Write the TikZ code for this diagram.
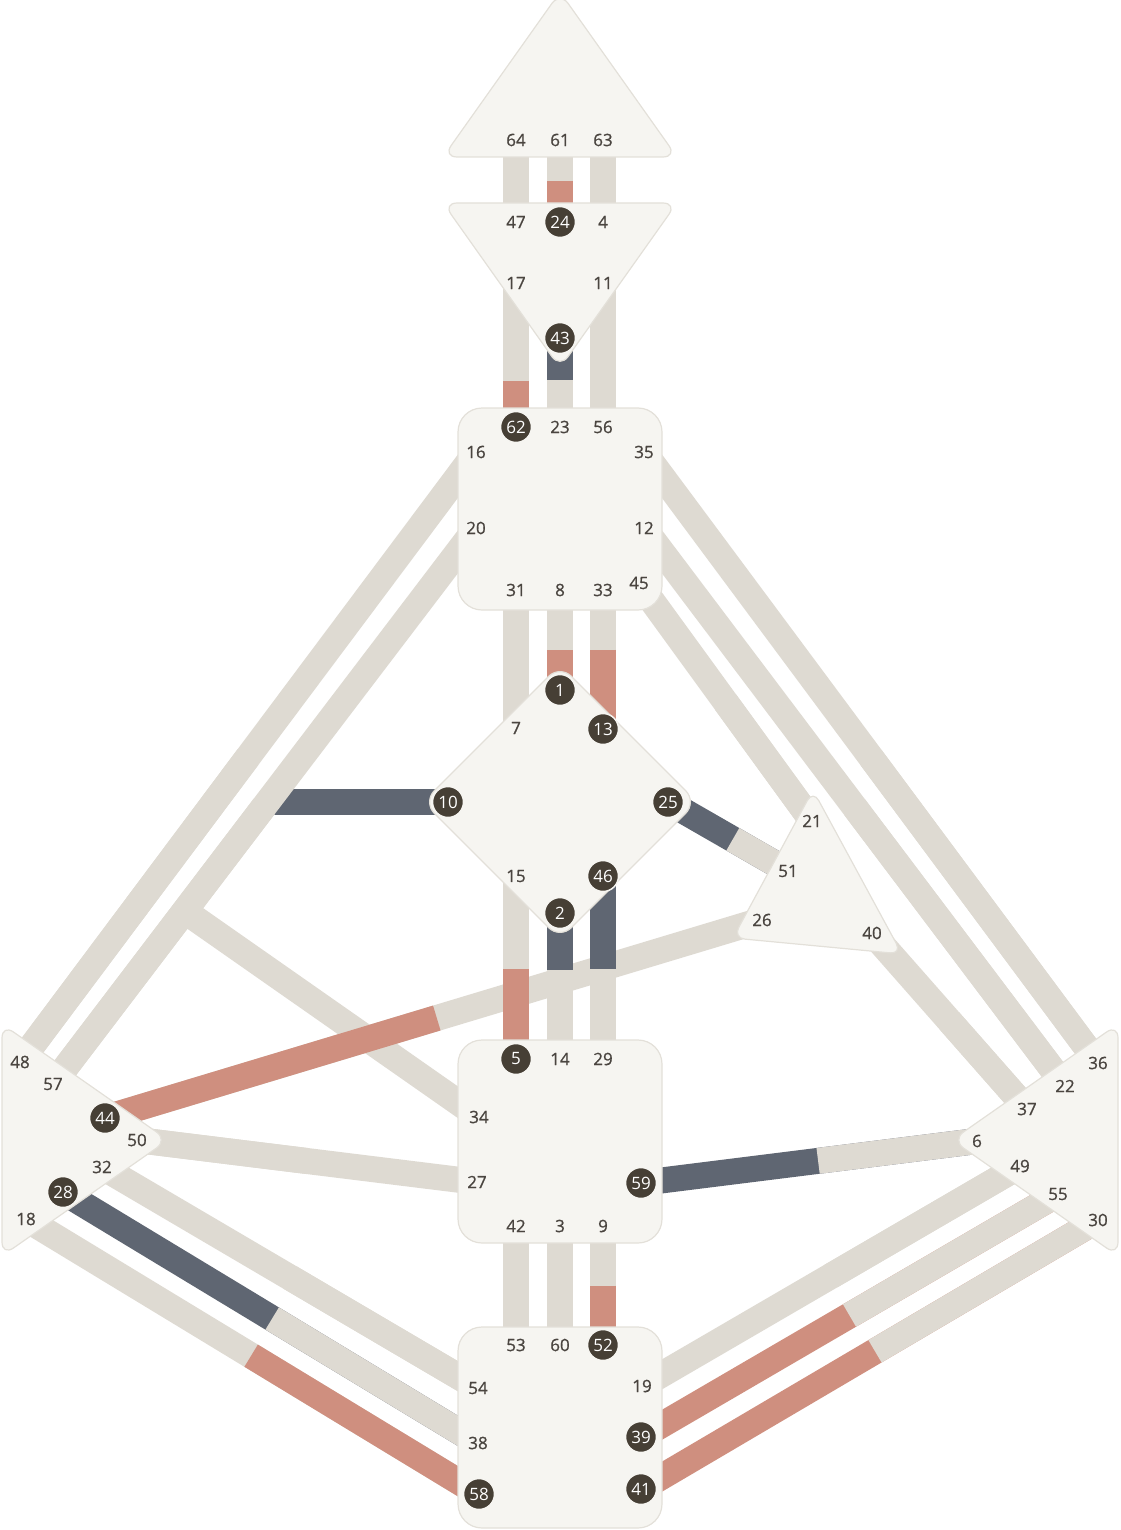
\documentclass[tikz,border=0pt]{standalone}
\usepackage{fontspec}
\setmainfont{Open Sans}
\newfontfamily\labelfamily{Open Sans}[BoldFont={Open Sans},BoldFeatures={FakeBold=0.9}]
\usetikzlibrary{calc}
\definecolor{chanoff}{HTML}{DEDAD2}
\definecolor{chanred}{HTML}{CF8F7F}
\definecolor{chanblue}{HTML}{5F6672}
\definecolor{centre}{HTML}{F6F5F1}
\definecolor{centreline}{HTML}{E3E0D9}
\definecolor{gatetext}{HTML}{4A4540}
\definecolor{gatefill}{HTML}{463F35}
\newcommand{\gatefont}{\fontsize{17}{17}\selectfont}

\begin{document}
\begin{tikzpicture}[x=1pt,y=-1pt,
	band/.style={line width=26pt},
	centrebox/.style={fill=centre,draw=centreline,line width=1.2pt},
	gatelabel/.style={text=gatetext,inner sep=0pt,font=\labelfamily\bfseries\gatefont},
	gatedot/.style={circle,fill=gatefill,draw=centre,line width=1.5pt,minimum size=31pt,inner sep=0pt,text=white,font=\gatefont}]
\useasboundingbox (0,0) rectangle (1120,1530);

% gate positions
\foreach \n/\x/\y in {64/516/140, 61/560/140, 63/603/140,
	47/516/222, 24/560/222, 4/603/222, 17/516/283, 11/603/283, 43/560/338,
	62/516/427, 23/560/427, 56/603/427, 16/476/452, 35/644/452, 20/476/528, 12/644/528,
	31/516/590, 8/560/590, 33/603/590, 45/639/583,
	1/560/690, 7/516/728, 13/603/729, 10/448/802, 25/668/802, 15/516/876, 46/603/876, 2/560/913,
	21/812/821, 51/788/871, 26/762/920, 40/872/933,
	48/20/1062, 57/53/1084, 44/105/1118, 50/137/1140, 32/102/1167, 28/63/1192, 18/26/1219,
	36/1098/1063, 22/1065/1086, 37/1027/1109, 6/977/1141, 49/1020/1166, 55/1058/1194, 30/1098/1220,
	5/516/1059, 14/560/1059, 29/603/1059, 34/479/1117, 27/477/1182, 59/641/1183,
	42/516/1226, 3/560/1226, 9/603/1226,
	53/516/1345, 60/560/1345, 52/603/1345, 54/478/1388, 19/642/1386,
	38/478/1443, 39/641/1437, 58/479/1494, 41/641/1489}
	\coordinate (g\n) at (\x,\y);

% bands that end on the 20-57 channel
\coordinate (j10) at (267.5,802);
\coordinate (j34) at (184.6,911);
\draw[band,chanblue] (g10) -- (j10);
\draw[band,chanoff] (g34) -- (j34);

% channels: gate/gate/colour/colour/split
\foreach \a/\b/\ca/\cb/\s in {26/44/chanoff/chanred/.495,
	64/47/chanoff/chanoff/.5, 61/24/chanoff/chanred/.5, 63/4/chanoff/chanoff/.5,
	17/62/chanoff/chanred/.68, 43/23/chanblue/chanoff/.47, 11/56/chanoff/chanoff/.5,
	31/7/chanoff/chanoff/.5, 8/1/chanoff/chanred/.6, 33/13/chanoff/chanred/.43,
	15/5/chanoff/chanred/.51, 2/14/chanblue/chanoff/.39, 46/29/chanblue/chanoff/.51,
	42/53/chanoff/chanoff/.5, 3/60/chanoff/chanoff/.5, 9/52/chanoff/chanred/.5,
	16/48/chanoff/chanoff/.5, 20/57/chanoff/chanoff/.5,
	35/36/chanoff/chanoff/.5, 12/22/chanoff/chanoff/.5, 45/21/chanoff/chanoff/.5,
	25/51/chanblue/chanoff/.54, 40/37/chanoff/chanoff/.5,
	27/50/chanoff/chanoff/.5, 59/6/chanblue/chanoff/.527,
	32/54/chanoff/chanoff/.5, 28/38/chanblue/chanoff/.504, 18/58/chanoff/chanred/.497,
	19/49/chanoff/chanoff/.5, 39/55/chanred/chanoff/.5, 41/30/chanred/chanoff/.512}
	{\draw[band,\ca] (g\a) -- (g\b);
	\draw[band,\cb] ($(g\a)!\s!(g\b)$) -- (g\b);}

% centres
\draw[centrebox,rounded corners=14pt] (560,-8) -- (677,157) -- (443,157) -- cycle;
\draw[centrebox,rounded corners=14pt] (443,203) -- (677,203) -- (560,368) -- cycle;
\draw[centrebox,rounded corners=24pt] (458,408) rectangle (662,610);
\draw[centrebox,rounded corners=16pt] (560,665) -- (697,802) -- (560,939) -- (423,802) -- cycle;
\draw[centrebox,rounded corners=12pt] (813,790) -- (902,954) -- (733,938) -- cycle;
\draw[centrebox,rounded corners=14pt] (2,1024) -- (168,1140) -- (2,1256) -- cycle;
\draw[centrebox,rounded corners=14pt] (1118,1024) -- (952,1140) -- (1118,1256) -- cycle;
\draw[centrebox,rounded corners=24pt] (458,1040) rectangle (662,1243);
\draw[centrebox,rounded corners=24pt] (458,1327) rectangle (662,1528);

% gate numbers
\foreach \n in {64,61,63,47,4,17,11,23,56,16,35,20,12,31,8,33,45,7,15,
	21,51,26,40,48,57,50,32,18,36,22,37,6,49,55,30,
	14,29,34,27,42,3,9,53,60,54,19,38}
	\node[gatelabel] (t\n) at (g\n) {\n};
\foreach \n in {24,43,62,1,13,10,25,46,2,44,28,5,59,52,39,58,41}
	\node[gatedot] (t\n) at (g\n) {\n};

\end{tikzpicture}
\end{document}
